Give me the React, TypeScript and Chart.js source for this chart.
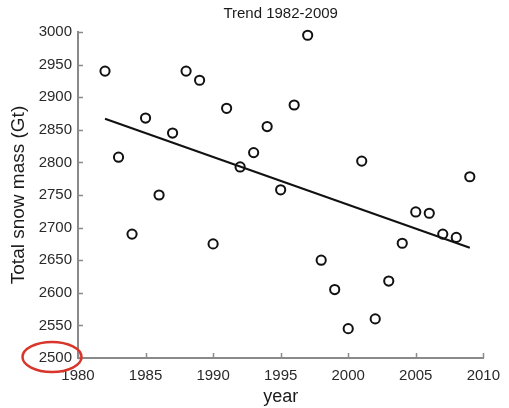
import React, { useEffect, useRef } from "react";
import { Chart, registerables } from "chart.js";

Chart.register(...registerables);

const years = [1982, 1983, 1984, 1985, 1986, 1987, 1988, 1989, 1990, 1991, 1992, 1993, 1994, 1995, 1996, 1997, 1998, 1999, 2000, 2001, 2002, 2003, 2004, 2005, 2006, 2007, 2008, 2009];
const snowMass = [2940, 2808, 2690, 2868, 2750, 2845, 2940, 2926, 2675, 2883, 2793, 2815, 2855, 2758, 2888, 2995, 2650, 2605, 2545, 2802, 2560, 2618, 2676, 2724, 2722, 2690, 2685, 2778];
const trendYears = [1982, 2009];
const trendValues = [2867, 2669];
const titleText = "Trend 1982-2009";
const xTitle = "year";
const yTitle = "Total snow mass (Gt)";
const highlightValue = 2500;

const FONT = "'Liberation Sans', Arial, Helvetica, sans-serif";
const axisColor = "#8a8a8a";

export default function App() {
  const ref = useRef<HTMLCanvasElement | null>(null);

  useEffect(() => {
    if (!ref.current) return;
    const decor = {
      id: "decor",
      afterDraw(chart: any) {
        const { ctx, scales, chartArea } = chart;
        const x = scales.x;
        const y = scales.y;
        ctx.save();
        ctx.strokeStyle = axisColor;
        ctx.lineWidth = 1.5;
        x.ticks.forEach((t: any) => {
          const px = Math.round(x.getPixelForValue(t.value)) + 0.5;
          ctx.beginPath();
          ctx.moveTo(px, chartArea.bottom);
          ctx.lineTo(px, chartArea.bottom - 5);
          ctx.stroke();
        });
        y.ticks.forEach((t: any) => {
          const py = Math.round(y.getPixelForValue(t.value)) + 0.5;
          ctx.beginPath();
          ctx.moveTo(chartArea.left, py);
          ctx.lineTo(chartArea.left + 5, py);
          ctx.stroke();
        });
        // title
        ctx.fillStyle = "#1a1a1a";
        ctx.font = `15px ${FONT}`;
        ctx.textAlign = "center";
        ctx.textBaseline = "middle";
        ctx.fillText(titleText, (chartArea.left + chartArea.right) / 2, 14);
        // highlight ellipse
        const cy = y.getPixelForValue(highlightValue) - 1;
        ctx.strokeStyle = "#d8362a";
        ctx.lineWidth = 2.5;
        ctx.beginPath();
        ctx.ellipse(chartArea.left - 26, cy, 29.5, 15, 0, 0, Math.PI * 2);
        ctx.stroke();
        ctx.restore();
      },
    };

    const chart = new Chart(ref.current, {
      type: "scatter",
      data: {
        datasets: [
          {
            label: "trend",
            type: "line",
            data: trendYears.map((yr, i) => ({ x: yr, y: trendValues[i] })),
            borderColor: "#111",
            borderWidth: 2,
            pointRadius: 0,
            fill: false,
            order: 2,
            clip: false,
          } as any,
          {
            label: "snow",
            data: years.map((yr, i) => ({ x: yr, y: snowMass[i] })),
            pointRadius: 4.6,
            pointBorderWidth: 2,
            pointBorderColor: "#111",
            pointBackgroundColor: "rgba(0,0,0,0)",
            borderColor: "#111",
            backgroundColor: "rgba(0,0,0,0)",
            order: 1,
            clip: false,
          } as any,
        ],
      },
      options: {
        animation: false,
        responsive: false,
        maintainAspectRatio: false,
        layout: { padding: { top: 32, right: 17, bottom: 0, left: 0 } },
        plugins: {
          legend: { display: false },
          tooltip: { enabled: false },
          title: { display: false },
        },
        scales: {
          x: {
            type: "linear",
            min: 1980,
            max: 2010,
            grid: { display: false, drawTicks: false },
            border: { display: true, color: axisColor, width: 2 },
            ticks: {
              stepSize: 5,
              padding: 9,
              color: "#2a2a2a",
              font: { family: FONT, size: 15 },
              callback: (v: any) => String(v),
              maxRotation: 0,
            },
            title: {
              display: true,
              text: xTitle,
              color: "#1a1a1a",
              font: { family: FONT, size: 18 },
              padding: { top: 0, bottom: 0 },
            },
            afterFit: (s: any) => {
              s.height = 50;
            },
          },
          y: {
            type: "linear",
            min: 2500,
            max: 3000,
            grid: { display: false, drawTicks: false },
            border: { display: true, color: axisColor, width: 2 },
            ticks: {
              stepSize: 50,
              padding: 6,
              color: "#2a2a2a",
              font: { family: FONT, size: 15 },
              callback: (v: any) => String(v),
            },
            title: {
              display: true,
              text: yTitle,
              color: "#1a1a1a",
              font: { family: FONT, size: 19 },
              padding: { top: 7, bottom: 0 },
            },
            afterFit: (s: any) => {
              s.width = 78;
            },
          },
        },
      },
      plugins: [decor],
    });
    return () => chart.destroy();
  }, []);

  return (
    <div style={{ position: "absolute", left: 0, top: 0, width: 509, height: 408, background: "#fff" }}>
      <canvas ref={ref} width={509} height={408} style={{ width: 509, height: 408 }} />
    </div>
  );
}
